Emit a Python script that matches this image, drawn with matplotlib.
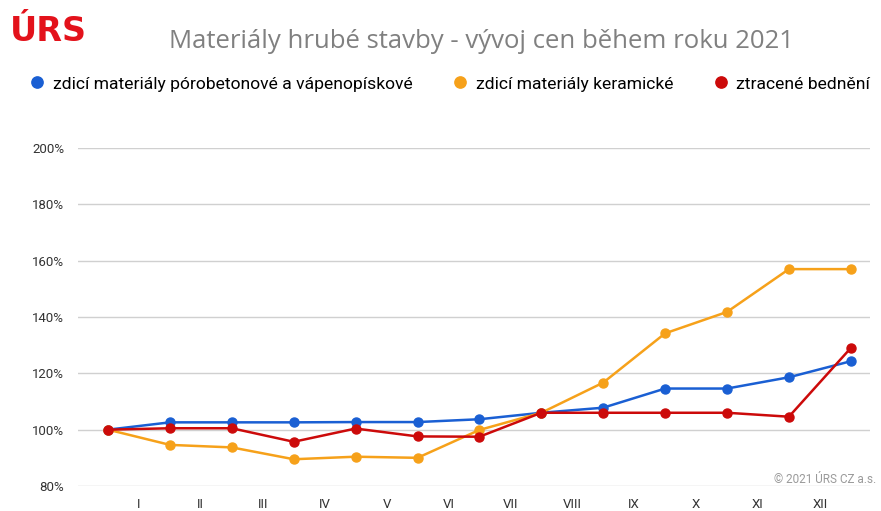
import numpy as np
import matplotlib
matplotlib.use("Agg")
from matplotlib import pyplot as plt

# month labels sit between the 13 measured points
months = ["I", "II", "III", "IV", "V", "VI", "VII", "VIII", "IX", "X", "XI", "XII"]

porobeton = [100, 102.6, 102.6, 102.6, 102.7, 102.7, 103.7, 106.0, 107.8, 114.6, 114.6, 118.6, 124.3]
keramicke = [100, 94.6, 93.7, 89.5, 90.4, 90.0, 99.9, 106.0, 116.7, 134.2, 141.8, 157.0, 157.0]
bedneni = [100, 100.5, 100.5, 95.7, 100.4, 97.6, 97.5, 106.0, 106.0, 106.0, 106.0, 104.6, 129.0]

series = [
    ("zdicí materiály pórobetonové a vápenopískové", porobeton, "#1a5fd3"),
    ("zdicí materiály keramické", keramicke, "#f6a11a"),
    ("ztracené bednění", bedneni, "#cc0a0a"),
]

plt.rcParams['font.family'] = ['Roboto', 'DejaVu Sans']

fig = plt.figure(figsize=(8.81, 5.11), dpi=100)
ax = fig.add_axes([78/881, 1-486/511, (870-78)/881, (486-148)/511])

x = np.arange(len(porobeton))
for name, vals, col in series:
    ax.plot(x, vals, color=col, lw=1.8, marker="o", ms=6.5, label=name)

ax.set_ylim(80, 200)
ax.set_yticks(np.arange(80, 201, 20))
ax.set_yticklabels([f"{v}%" for v in range(80, 201, 20)], fontsize=9.5, color="#333333")
ax.set_xlim(-0.485, 12.31)
ax.set_xticks(np.arange(12) + 0.5)
ax.set_xticklabels(months, fontsize=9.5, color="#333333")
ax.tick_params(length=0, pad=10)
ax.tick_params(axis="x", pad=9)
ax.grid(axis="y", color="#d0d0d0", lw=1)
ax.set_axisbelow(True)
for s in ax.spines.values():
    s.set_visible(False)

fig.legend(loc="center", bbox_to_anchor=(0.511, 1-84/511), ncol=3, frameon=False,
           fontsize=12.6, handlelength=0.8, handletextpad=0.5, columnspacing=2.3,
           markerscale=1.25)
# legend shows only the dot
for h in fig.legends[0].legend_handles:
    h.set_linestyle("none")

fig.text(0.546, 1-42/511, "Materiály hrubé stavby - vývoj cen během roku 2021",
         ha="center", va="center", fontsize=18.5, color="#808080", family=["Open Sans", "DejaVu Sans"])
fig.text(10/881, 1-31/511, "ÚRS", ha="left", va="center", fontsize=24, fontweight="heavy",
         color="#e3121b", family=["DejaVu Sans"])
fig.text(876/881, 1-479/511, "© 2021 ÚRS CZ a.s.", ha="right", va="center", fontsize=8.5, color="#9a9a9a")

fig.savefig("out.png", dpi=100)
